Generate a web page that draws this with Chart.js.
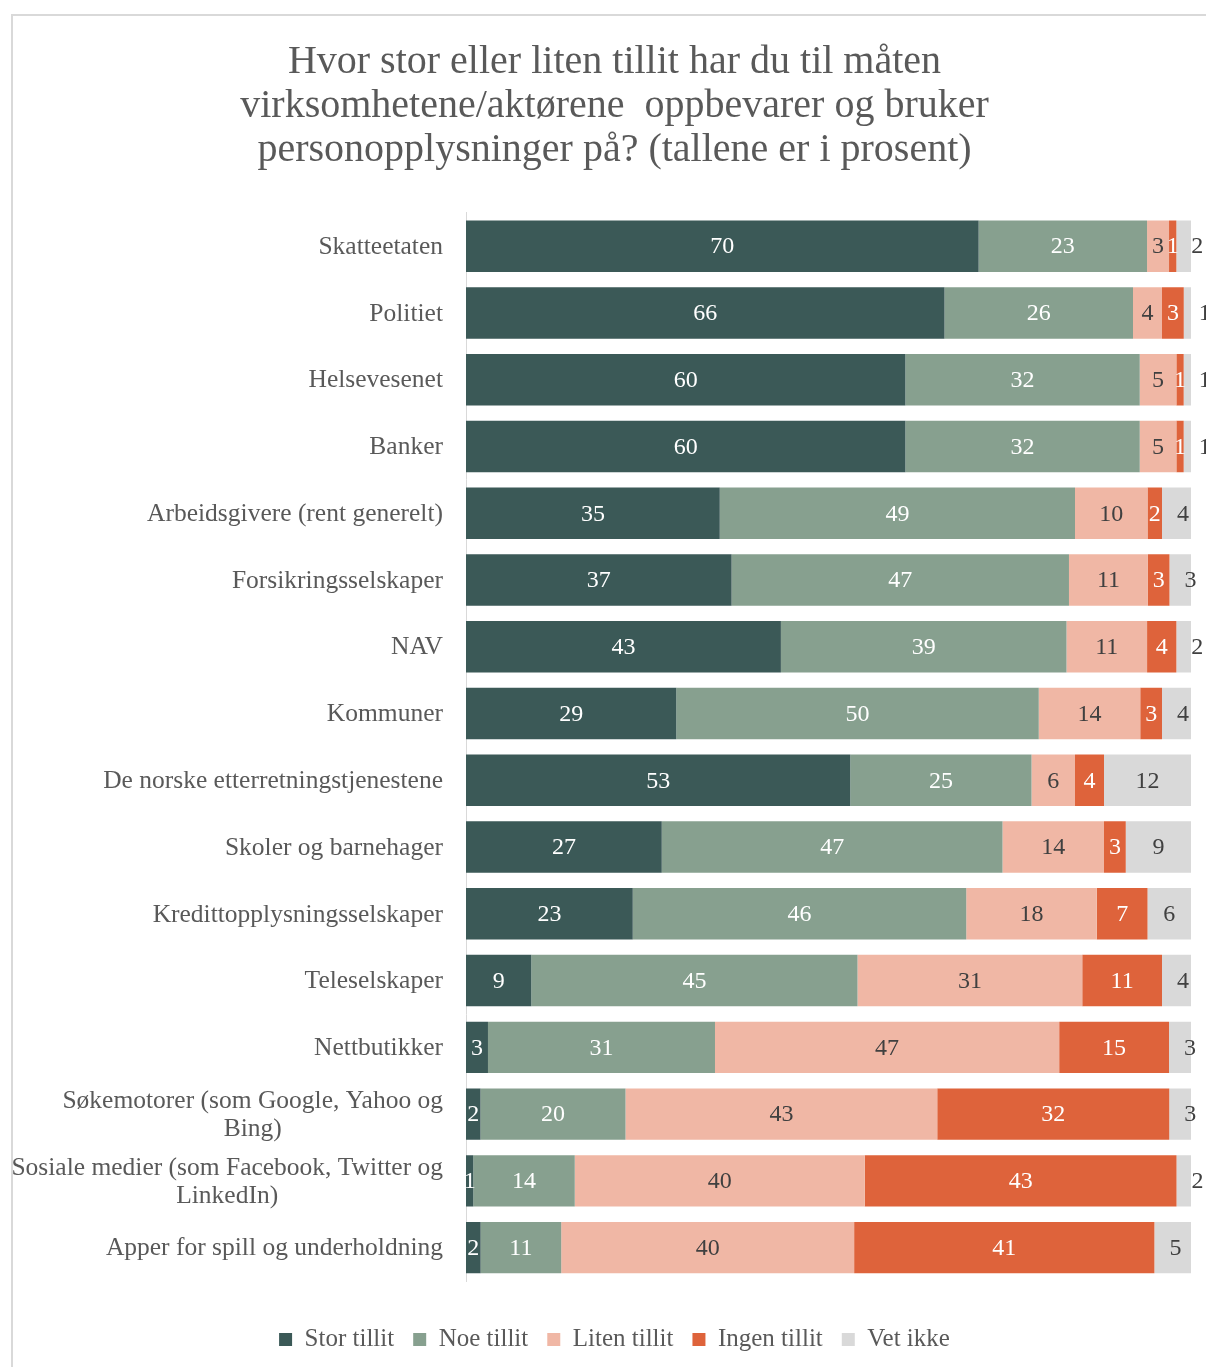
<!DOCTYPE html>
<html>
<head>
<meta charset="utf-8">
<script src="https://cdn.jsdelivr.net/npm/chart.js@4/dist/chart.umd.min.js"></script>
<style>
  body { margin: 0; background: #fff; }
  #frame { position: absolute; left: 11px; top: 14px; width: 1300px; height: 1400px;
           border-left: 2px solid #d9d9d9; border-top: 2px solid #d9d9d9; }
  #chDonut1 { position: absolute; left: 0; top: 0; }
</style>
</head>
<body>
<div id="frame"></div>
<canvas id="chDonut1" width="1206" height="1367"></canvas>
<script>
// actors, each label line is one entry
let categories = [
  ["Skatteetaten"],
  ["Politiet"],
  ["Helsevesenet"],
  ["Banker"],
  ["Arbeidsgivere (rent generelt)"],
  ["Forsikringsselskaper"],
  ["NAV"],
  ["Kommuner"],
  ["De norske etterretningstjenestene"],
  ["Skoler og barnehager"],
  ["Kredittopplysningsselskaper"],
  ["Teleselskaper"],
  ["Nettbutikker"],
  ["Søkemotorer (som Google, Yahoo og", "Bing)"],
  ["Sosiale medier (som Facebook, Twitter og", "LinkedIn)"],
  ["Apper for spill og underholdning"]
];

let seriesNames = ["Stor tillit", "Noe tillit", "Liten tillit", "Ingen tillit", "Vet ikke"];
let storTillit  = [70, 66, 60, 60, 35, 37, 43, 29, 53, 27, 23, 9, 3, 2, 1, 2];
let noeTillit   = [23, 26, 32, 32, 49, 47, 39, 50, 25, 47, 46, 45, 31, 20, 14, 11];
let litenTillit = [3, 4, 5, 5, 10, 11, 11, 14, 6, 14, 18, 31, 47, 43, 40, 40];
let ingenTillit = [1, 3, 1, 1, 2, 3, 4, 3, 4, 3, 7, 11, 15, 32, 43, 41];
let vetIkke     = [2, 1, 1, 1, 4, 3, 2, 4, 12, 9, 6, 4, 3, 3, 2, 5];

var colors = ['#3b5957', '#87a08f', '#f0b7a5', '#de633b', '#d9d9d9'];
var labelColors = ['#ffffff', '#ffffff', '#404040', '#ffffff', '#404040'];
var font = "'Liberation Serif', 'DejaVu Serif', serif";

let series = [storTillit, noeTillit, litenTillit, ingenTillit, vetIkke];

// 100% stacked: each row is scaled to its own total
let totals = categories.map((c, i) => series.reduce((s, arr) => s + arr[i], 0));

var datasets = series.map((arr, k) => ({
  label: seriesNames[k],
  data: arr.map((v, i) => v / totals[i] * 100),
  raw: arr,
  backgroundColor: colors[k],
  borderWidth: 0,
  barPercentage: 0.77,
  categoryPercentage: 1
}));

// draws the number on every segment
const segmentLabels = {
  id: 'segmentLabels',
  afterDatasetsDraw(chart) {
    const ctx = chart.ctx;
    ctx.save();
    ctx.font = "24px " + font;
    ctx.textAlign = 'center';
    ctx.textBaseline = 'middle';
    const last = chart.data.datasets.length - 1;
    chart.data.datasets.forEach((ds, k) => {
      const meta = chart.getDatasetMeta(k);
      meta.data.forEach((bar, i) => {
        let w = bar.x - bar.base;
        let x = (bar.x + bar.base) / 2;
        // "vet ikke" numbers get pushed right when the piece is thin
        if (k == last) x += Math.max(0, 21 - w / 2);
        ctx.fillStyle = labelColors[k];
        ctx.fillText(String(ds.raw[i]), x, bar.y + 1);
      });
    });
    ctx.restore();
  }
};

// category names: block right aligned, lines centered inside the block
const categoryLabels = {
  id: 'categoryLabels',
  afterDraw(chart) {
    const ctx = chart.ctx;
    const yScale = chart.scales.y;
    ctx.save();
    ctx.font = "25.5px " + font;
    ctx.fillStyle = '#595959';
    ctx.textAlign = 'center';
    ctx.textBaseline = 'middle';
    const right = 443;
    categories.forEach((lines, i) => {
      const yc = yScale.getPixelForTick(i);
      const wmax = Math.max(...lines.map(l => ctx.measureText(l).width));
      const lh = 28;
      lines.forEach((l, j) => {
        const y = yc + (j - (lines.length - 1) / 2) * lh;
        ctx.fillText(l, right - wmax / 2, y + 1);
      });
    });
    ctx.restore();
  }
};

new Chart(document.getElementById("chDonut1"), {
  type: 'bar',
  data: { labels: categories.map(c => c.join(' ')), datasets: datasets },
  plugins: [segmentLabels, categoryLabels],
  options: {
    indexAxis: 'y',
    responsive: false,
    animation: false,
    layout: { padding: { left: 38, right: 15, top: 0, bottom: 5 } },
    scales: {
      x: {
        stacked: true, min: 0, max: 100,
        grid: { display: false },
        border: { display: false },
        ticks: { display: false },
        afterFit(scale) { scale.height = 27; }
      },
      y: {
        stacked: true,
        grid: { display: false },
        border: { display: true, color: '#d9d9d9', width: 1 },
        ticks: { display: false },
        afterFit(scale) { scale.width = 428; }
      }
    },
    plugins: {
      title: {
        display: true,
        text: ["Hvor stor eller liten tillit har du til måten",
               "virksomhetene/aktørene  oppbevarer og bruker",
               "personopplysninger på? (tallene er i prosent)"],
        color: '#595959',
        font: { family: font, size: 40, weight: 'normal', lineHeight: 1.09 },
        padding: { top: 41, bottom: 41 }
      },
      legend: {
        position: 'bottom',
        labels: {
          boxWidth: 13, boxHeight: 13, padding: 19,
          color: '#595959',
          font: { family: font, size: 25 }
        }
      },
      tooltip: { enabled: false }
    }
  }
});
</script>
</body>
</html>
